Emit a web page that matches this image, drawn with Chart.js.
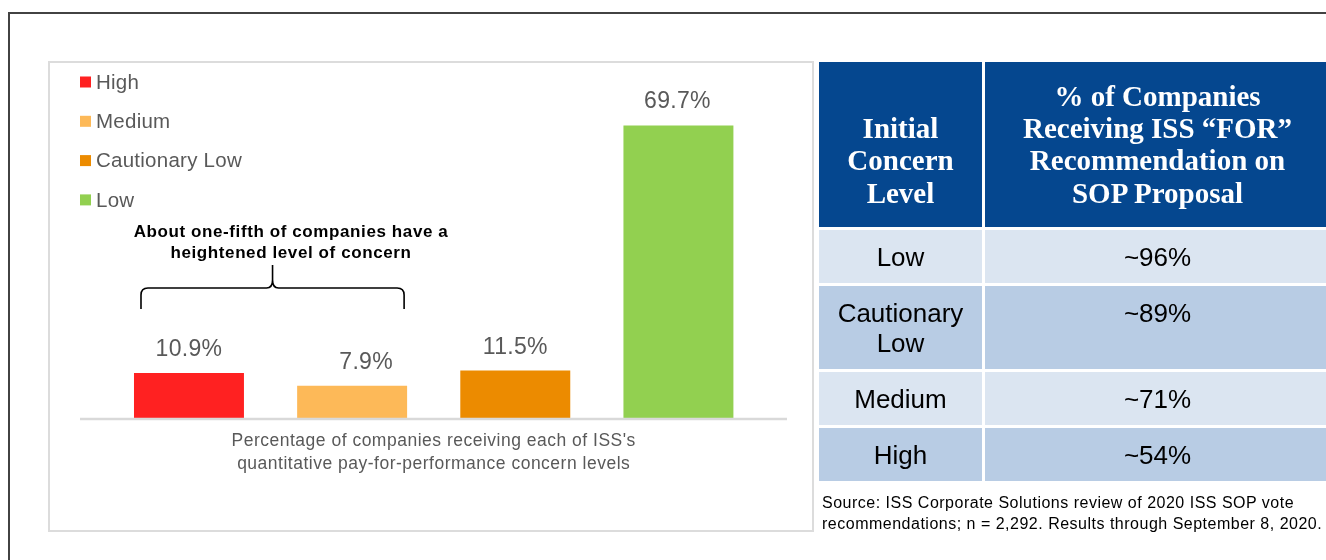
<!DOCTYPE html>
<html>
<head>
<meta charset="utf-8">
<script src="https://cdn.jsdelivr.net/npm/chart.js@4.4.1/dist/chart.umd.min.js"></script>
<style>
  html, body { margin:0; padding:0; background:#fff; width:1326px; height:560px; overflow:hidden; position:relative; font-family:"Liberation Sans", Arial, sans-serif; }
  #frame { position:absolute; left:8px; top:12px; width:1400px; height:600px; border-left:2px solid #424242; border-top:2px solid #424242; }
  #chartbox { position:absolute; left:48px; top:61px; width:766px; height:471px; box-sizing:border-box; border:2px solid #dcdcdc; }
  #c { position:absolute; left:0; top:0; }
  #tbl { position:absolute; left:819px; top:62px; display:grid; grid-template-columns:163px 345px; column-gap:3px; row-gap:3px; }
  .hd { background:#05478f; color:#fff; font-family:"Liberation Serif", "Times New Roman", serif; font-weight:bold; font-size:29px; line-height:32.3px; text-align:center; display:flex; align-items:flex-end; justify-content:center; padding-bottom:18px; box-sizing:border-box; height:165px; }
  .cell { font-size:26px; line-height:30px; color:#000; text-align:center; padding:11.5px 4px; box-sizing:border-box; }
  .r0 { background:#dbe5f1; }
  .r1 { background:#b8cce4; }
  #src { position:absolute; left:822px; top:493px; font-size:16px; letter-spacing:0.5px; line-height:20.5px; color:#000; white-space:nowrap; }
</style>
</head>
<body>
<div id="frame"></div>
<div id="chartbox"></div>
<canvas id="c" width="1326" height="560"></canvas>
<div id="tbl"></div>
<div id="src"></div>
<script>
// ---- chart data ----
const categories = ['High', 'Medium', 'Cautionary Low', 'Low'];
const shares = [10.9, 7.9, 11.5, 69.7];
const barColors = ['#ff2121', '#fdb958', '#ec8b00', '#92d050'];
const axisTitleLines = ["Percentage of companies receiving each of ISS's", 'quantitative pay-for-performance concern levels'];
const noteLines = ['About one-fifth of companies have a', 'heightened level of concern'];
// ---- table data ----
const tableHeaders = ['Initial<br>Concern<br>Level', '% of Companies<br>Receiving ISS \u201cFOR\u201d<br>Recommendation on<br>SOP Proposal'];
const tableLevels = ['Low', 'Cautionary<br>Low', 'Medium', 'High'];
const tablePct = ['~96%', '~89%', '~71%', '~54%'];
const sourceLines = ['Source: ISS Corporate Solutions review of 2020 ISS SOP vote', 'recommendations; n = 2,292. Results through September 8, 2020.'];

// build table
const tbl = document.getElementById('tbl');
tableHeaders.forEach(h => { const d = document.createElement('div'); d.className = 'hd'; d.innerHTML = '<div>' + h + '</div>'; tbl.appendChild(d); });
tableLevels.forEach((lv, i) => {
  const a = document.createElement('div'); a.className = 'cell r' + (i % 2); a.innerHTML = lv; tbl.appendChild(a);
  const b = document.createElement('div'); b.className = 'cell r' + (i % 2); b.innerHTML = tablePct[i]; tbl.appendChild(b);
});
document.getElementById('src').innerHTML = sourceLines.join('<br>');

const SANS = '"Liberation Sans", Arial, sans-serif';
const labelShiftX = [0, 14, 0, -1];

function spaced(ctx, px) { if ('letterSpacing' in ctx) ctx.letterSpacing = px + 'px'; }

const overlay = {
  id: 'overlay',
  afterDatasetsDraw(chart) {
    const ctx = chart.ctx;
    const meta = chart.getDatasetMeta(0);
    const area = chart.chartArea;
    ctx.save();
    // baseline
    ctx.strokeStyle = '#d9d9d9';
    ctx.lineWidth = 2.5;
    ctx.beginPath();
    ctx.moveTo(80, area.bottom);
    ctx.lineTo(787, area.bottom);
    ctx.stroke();
    // value labels
    spaced(ctx, 0.3);
    ctx.font = '23px ' + SANS;
    ctx.fillStyle = '#595959';
    ctx.textAlign = 'center';
    ctx.textBaseline = 'alphabetic';
    meta.data.forEach((bar, i) => {
      ctx.fillText(shares[i].toFixed(1) + '%', bar.x + labelShiftX[i], bar.y - 17);
    });
    // legend
    spaced(ctx, 0.25);
    ctx.font = '20.5px ' + SANS;
    ctx.textAlign = 'left';
    ctx.textBaseline = 'middle';
    categories.forEach((c, i) => {
      const y = 82 + i * 39.3;
      ctx.fillStyle = barColors[i];
      ctx.fillRect(80, y - 5.5, 11, 11);
      ctx.fillStyle = '#595959';
      ctx.fillText(c, 96, y + 1);
    });
    // axis title
    spaced(ctx, 0.5);
    ctx.font = '17.5px ' + SANS;
    ctx.textAlign = 'center';
    const cx = (area.left + area.right) / 2;
    axisTitleLines.forEach((t, i) => ctx.fillText(t, cx, 441 + i * 23));
    // annotation text
    spaced(ctx, 0.6);
    ctx.fillStyle = '#000';
    ctx.font = 'bold 17px ' + SANS;
    noteLines.forEach((t, i) => ctx.fillText(t, 291, 232 + i * 21));
    spaced(ctx, 0);
    // brace
    const b0 = meta.data[0], b1 = meta.data[1];
    const left = b0.x - b0.width / 2 + 7;
    const right = b1.x + b1.width / 2 - 3;
    const mid = (left + right) / 2;
    const yTip = 309, yMid = 288, yPeak = 265;
    ctx.strokeStyle = '#000';
    ctx.lineWidth = 1.6;
    ctx.beginPath();
    ctx.moveTo(left, yTip);
    ctx.lineTo(left, yMid + 7);
    ctx.quadraticCurveTo(left, yMid, left + 7, yMid);
    ctx.lineTo(mid - 6, yMid);
    ctx.quadraticCurveTo(mid, yMid, mid, yMid - 8);
    ctx.lineTo(mid, yPeak);
    ctx.moveTo(mid, yMid - 8);
    ctx.quadraticCurveTo(mid, yMid, mid + 6, yMid);
    ctx.lineTo(right - 7, yMid);
    ctx.quadraticCurveTo(right, yMid, right, yMid + 7);
    ctx.lineTo(right, yTip);
    ctx.stroke();
    ctx.restore();
  }
};

new Chart(document.getElementById('c'), {
  type: 'bar',
  data: {
    labels: categories,
    datasets: [{ data: shares, backgroundColor: barColors, borderWidth: 0, barPercentage: 0.674, categoryPercentage: 1 }]
  },
  options: {
    responsive: false,
    animation: false,
    devicePixelRatio: 1,
    layout: { padding: { left: 107.4, right: 1326 - 760, top: 82, bottom: 560 - 419 } },
    plugins: { legend: { display: false }, tooltip: { enabled: false } },
    scales: {
      x: { display: false },
      y: { display: false, min: 0, max: 80 }
    }
  },
  plugins: [overlay]
});
</script>
</body>
</html>
